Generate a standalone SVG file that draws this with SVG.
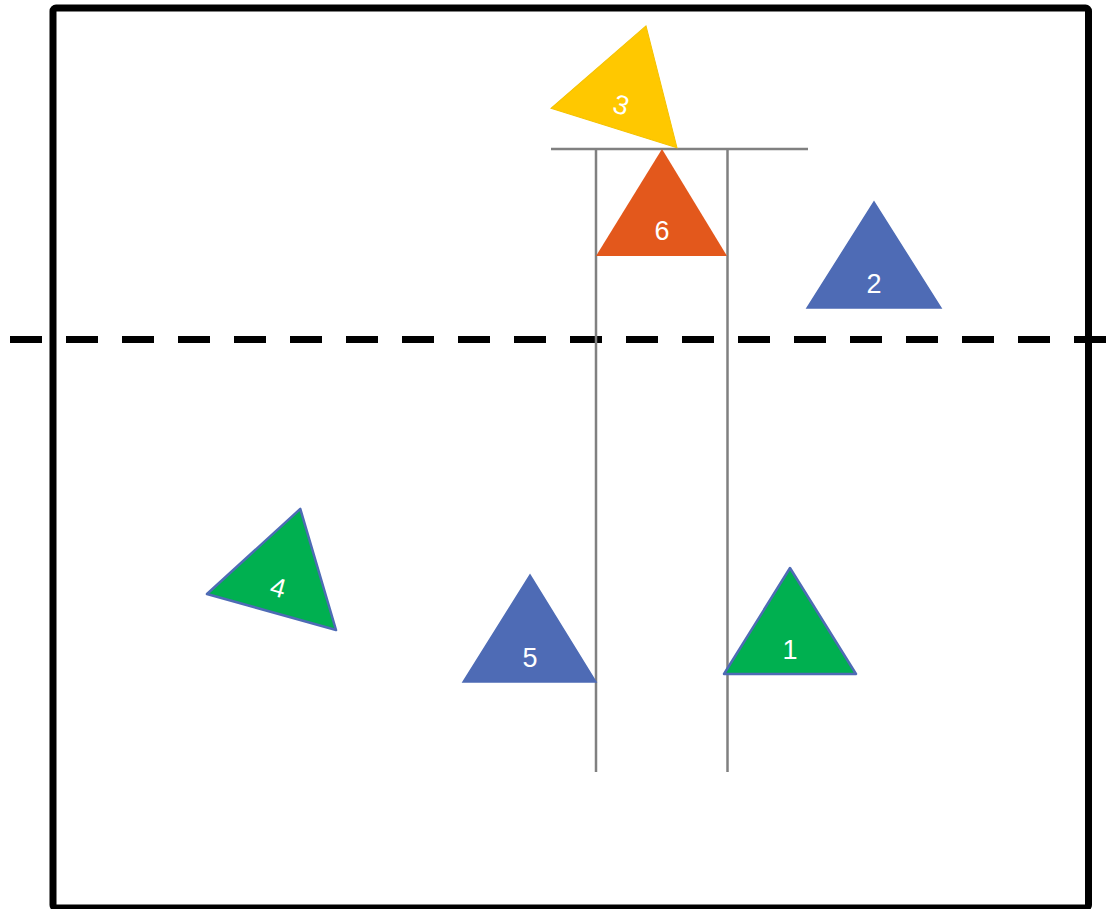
<svg xmlns="http://www.w3.org/2000/svg" width="1109" height="909" viewBox="0 0 1109 909">
<style>
.lbl{font-family:"Liberation Sans",Arial,sans-serif;font-size:27px;fill:#ffffff;text-anchor:middle}
.blue{fill:#4E6BB5;stroke:#4E6BB5;stroke-width:1.5}
.green{fill:#00B050;stroke:#4E6BB5;stroke-width:2.5;stroke-linejoin:round}
.yellow{fill:#FFC800;stroke:#F5C200;stroke-width:1}
.orange{fill:#E3581C}
.guide{stroke:#808080;stroke-width:2.5;fill:none}
</style>
<rect width="1109" height="909" fill="#ffffff"/>
<g id="frame">
<rect x="53" y="8" width="1035.5" height="900" fill="none" stroke="#000000" stroke-width="7" rx="3"/>
<line x1="10" y1="339.5" x2="1106" y2="339.5" stroke="#000000" stroke-width="7" stroke-dasharray="32 24"/>
</g>
<g id="connectors">
<line class="guide" x1="551" y1="149" x2="808" y2="149"/>
<line class="guide" x1="596" y1="149" x2="596" y2="772"/>
<line class="guide" x1="727.5" y1="149" x2="727.5" y2="772"/>
</g>
<g id="node6">
<polygon class="orange" points="662,149 727,256 596,256"/>
<text class="lbl" x="662" y="240">6</text>
</g>
<g id="node3" transform="rotate(17.4 614 128)">
<polygon class="yellow" points="614,21 680,128 548,128"/>
<text class="lbl" x="614" y="113" transform="translate(0 0)">3</text>
</g>
<g id="node2">
<polygon class="blue" points="874,202 941,308 807,308"/>
<text class="lbl" x="874" y="293">2</text>
</g>
<g id="node4" transform="rotate(15.6 271.5 612)">
<polygon class="green" points="271.5,505 338.5,612 204.5,612"/>
<text class="lbl" x="271.5" y="596">4</text>
</g>
<g id="node5">
<polygon class="blue" points="530,575 596,682 463,682"/>
<text class="lbl" x="530" y="667">5</text>
</g>
<g id="node1">
<polygon class="green" points="790,568 856,674 724,674"/>
<text class="lbl" x="790" y="659">1</text>
</g>
</svg>
